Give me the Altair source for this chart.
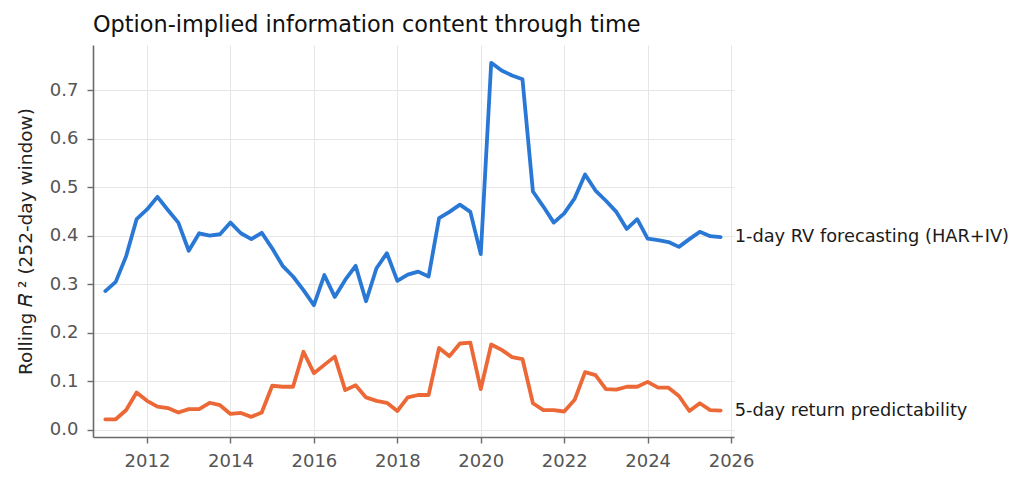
import altair as alt
import pandas as pd

quarters = [2011 + 0.25 * i for i in range(60)]

rv_forecast = [0.286, 0.305, 0.358, 0.434, 0.454, 0.480, 0.453, 0.427, 0.369, 0.405,
               0.400, 0.403, 0.427, 0.405, 0.393, 0.406, 0.374, 0.338, 0.316, 0.288,
               0.257, 0.319, 0.274, 0.309, 0.338, 0.265, 0.333, 0.364, 0.307, 0.320,
               0.326, 0.316, 0.436, 0.449, 0.464, 0.449, 0.362, 0.756, 0.740, 0.730,
               0.722, 0.491, 0.460, 0.427, 0.446, 0.477, 0.526, 0.493, 0.472, 0.449,
               0.414, 0.434, 0.394, 0.391, 0.387, 0.377, 0.393, 0.408, 0.399, 0.397]

ret_pred = [0.022, 0.022, 0.041, 0.077, 0.060, 0.048, 0.045, 0.036, 0.043, 0.043,
            0.056, 0.051, 0.033, 0.035, 0.027, 0.036, 0.091, 0.089, 0.089, 0.161,
            0.117, 0.134, 0.151, 0.082, 0.092, 0.067, 0.060, 0.056, 0.039, 0.067,
            0.072, 0.072, 0.169, 0.152, 0.178, 0.180, 0.084, 0.176, 0.165, 0.150,
            0.146, 0.055, 0.041, 0.041, 0.038, 0.062, 0.119, 0.113, 0.084, 0.083,
            0.089, 0.089, 0.099, 0.087, 0.087, 0.070, 0.039, 0.055, 0.041, 0.040]

series_names = ["1-day RV forecasting (HAR+IV)", "5-day return predictability"]
series_colors = ["#2a78d6", "#ec6836"]
x_ticks = [2012, 2014, 2016, 2018, 2020, 2022, 2024, 2026]
y_ticks = [0.0, 0.1, 0.2, 0.3, 0.4, 0.5, 0.6, 0.7]

rows = []
for name, vals in zip(series_names, [rv_forecast, ret_pred]):
    for q, v in zip(quarters, vals):
        rows.append({"t": q, "r2": v, "series": name})
df = pd.DataFrame(rows)
last = df.groupby("series", as_index=False).last()

FONT = "DejaVu Sans"

xs = alt.Scale(domain=[2010.705, 2026.07], nice=False, zero=False)
ys = alt.Scale(domain=[-0.0145, 0.7927], nice=False, zero=False)
cs = alt.Scale(domain=series_names, range=series_colors)

lines = alt.Chart(df).mark_line(strokeWidth=3.8, strokeJoin="round", strokeCap="round").encode(
    x=alt.X("t:Q", scale=xs, title=None,
            axis=alt.Axis(values=x_ticks, format="d", grid=True)),
    y=alt.Y("r2:Q", scale=ys, title="Rolling 𝑅 ² (252-day window)",
            axis=alt.Axis(values=y_ticks, format=".1f", grid=True,
                          titleX=-62, titleY=196, titleAngle=-90, titleFontSize=18.5,
                          titleAlign="center", titleBaseline="alphabetic")),
    color=alt.Color("series:N", scale=cs, legend=None),
    detail="series:N",
)

labels = alt.Chart(last).mark_text(align="left", baseline="middle", dx=14,
                                   fontSize=17.8, font=FONT, color="#1a1a1a").encode(
    x=alt.X("t:Q", scale=xs),
    y=alt.Y("r2:Q", scale=ys),
    text="series:N",
)

chart = (lines + labels).properties(
    width=641, height=392,
    title=alt.TitleParams("Option-implied information content through time",
                          anchor="start", frame="group", fontSize=22.4, font=FONT,
                          fontWeight="normal", color="#111111",
                          baseline="alphabetic", offset=13, dy=22),
    autosize=alt.AutoSizeParams(type="none"),
    padding={"left": 85, "top": 37, "right": 280, "bottom": 40},
).configure_view(stroke=None).configure_axis(
    labelFont=FONT, titleFont=FONT, labelFontSize=18, titleFontSize=17.5,
    labelColor="#555555", titleColor="#222222", titleFontWeight="normal",
    domainColor="#6b6b6b", domainWidth=1.6, tickColor="#6b6b6b", tickWidth=1.4,
    tickSize=6, gridColor="#e6e6e6", gridWidth=1,
).configure_axisX(labelPadding=9).configure_axisY(labelPadding=9)

chart.save("out.html", embed_options={"renderer": "svg", "actions": False})
